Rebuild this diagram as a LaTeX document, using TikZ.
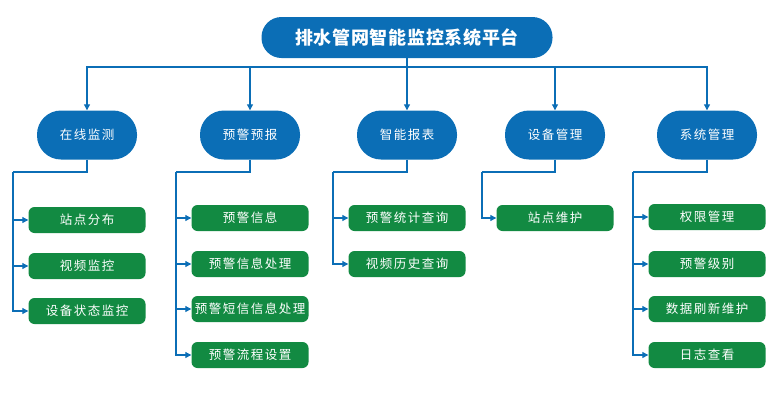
\documentclass[tikz,border=0pt]{standalone}
\usepackage{fontspec}
\newfontfamily\cjktitle[LetterSpace=4]{Noto Sans CJK SC}
\newfontfamily\cjkspaced[LetterSpace=12]{Noto Sans CJK SC}
\usetikzlibrary{arrows.meta, positioning}
\definecolor{pipeBlue}{RGB}{11, 110, 182}
\definecolor{pipeGreen}{RGB}{18, 138, 66}
\tikzset{
  titlebox/.style={
    rectangle, rounded corners=20pt,
    fill=pipeBlue, text=white,
    minimum width=291pt, minimum height=41pt,
    font=\cjktitle\bfseries\fontsize{18}{20}\selectfont
  },
  catbox/.style={
    rectangle, rounded corners=24pt,
    fill=pipeBlue, text=white,
    minimum width=100pt, minimum height=49pt,
    font=\cjkspaced\fontsize{12.5}{14}\selectfont
  },
  leafbox/.style={
    rectangle, rounded corners=6pt,
    fill=pipeGreen, text=white,
    minimum width=117pt, minimum height=26pt, inner sep=1pt,
    font=\cjkspaced\fontsize{12.5}{14}\selectfont
  },
  myline/.style={draw=pipeBlue, line width=1.1pt},
  myarrow/.style={myline, -{Triangle[length=6pt, width=6pt]}}
}

\begin{document}
\begin{tikzpicture}[x=1pt, y=-1pt]
\useasboundingbox (0,0) rectangle (776,400);

\def\colA{87}
\def\colB{250}
\def\colC{407}
\def\colD{555}
\def\colE{707}
\def\catY{135}
\def\kneeY{172}

%% TOP
\node[titlebox] (platform) at (407, 37.5) {排水管网智能监控系统平台};
\coordinate (bus) at (407, 67);

%% CATEGORIES
\node[catbox] (online) at (\colA, \catY) {在线监测};
\node[catbox] (warning) at (\colB, \catY) {预警预报};
\node[catbox] (report) at (\colC, \catY) {智能报表};
\node[catbox] (device) at (\colD, \catY) {设备管理};
\node[catbox] (system) at (\colE, \catY) {系统管理};

%% LEAVES
\node[leafbox] (sitemap) at (\colA, 220) {站点分布};
\node[leafbox] (video) at (\colA, 266) {视频监控};
\node[leafbox] (status) at (\colA, 311) {设备状态监控};

\node[leafbox] (warninfo) at (\colB, 218) {预警信息};
\node[leafbox] (warnproc) at (\colB, 264) {预警信息处理};
\node[leafbox] (warnsms) at (\colB, 309) {预警短信信息处理};
\node[leafbox] (warnflow) at (\colB, 355) {预警流程设置};

\node[leafbox] (warnstat) at (\colC, 218) {预警统计查询};
\node[leafbox] (videohist) at (\colC, 264) {视频历史查询};

\node[leafbox] (sitecare) at (\colD, 218) {站点维护};

\node[leafbox] (rights) at (\colE, 217) {权限管理};
\node[leafbox] (level) at (\colE, 264) {预警级别};
\node[leafbox] (refresh) at (\colE, 309) {数据刷新维护};
\node[leafbox] (logs) at (\colE, 355) {日志查看};

%% KNEES
\coordinate (kneeA) at (13, \kneeY);
\coordinate (kneeB) at (176, \kneeY);
\coordinate (kneeC) at (333, \kneeY);
\coordinate (kneeD) at (482, \kneeY);
\coordinate (kneeE) at (633, \kneeY);

%% ARROWS
\draw[myarrow] (platform.south) -- (report.north);
\draw[myarrow] (bus) -| (online.north);
\draw[myarrow] (bus) -| (warning.north);
\draw[myarrow] (bus) -| (device.north);
\draw[myarrow] (bus) -| (system.north);

% online
\draw[myline] (online.south) |- (kneeA);
\draw[myarrow] (kneeA) |- (sitemap.west);
\draw[myarrow] (kneeA) |- (video.west);
\draw[myarrow] (kneeA) |- (status.west);

% warning
\draw[myline] (warning.south) |- (kneeB);
\draw[myarrow] (kneeB) |- (warninfo.west);
\draw[myarrow] (kneeB) |- (warnproc.west);
\draw[myarrow] (kneeB) |- (warnsms.west);
\draw[myarrow] (kneeB) |- (warnflow.west);

% report
\draw[myline] (report.south) |- (kneeC);
\draw[myarrow] (kneeC) |- (warnstat.west);
\draw[myarrow] (kneeC) |- (videohist.west);

% device
\draw[myline] (device.south) |- (kneeD);
\draw[myarrow] (kneeD) |- (sitecare.west);

% system
\draw[myline] (system.south) |- (kneeE);
\draw[myarrow] (kneeE) |- (rights.west);
\draw[myarrow] (kneeE) |- (level.west);
\draw[myarrow] (kneeE) |- (refresh.west);
\draw[myarrow] (kneeE) |- (logs.west);

\end{tikzpicture}
\end{document}
